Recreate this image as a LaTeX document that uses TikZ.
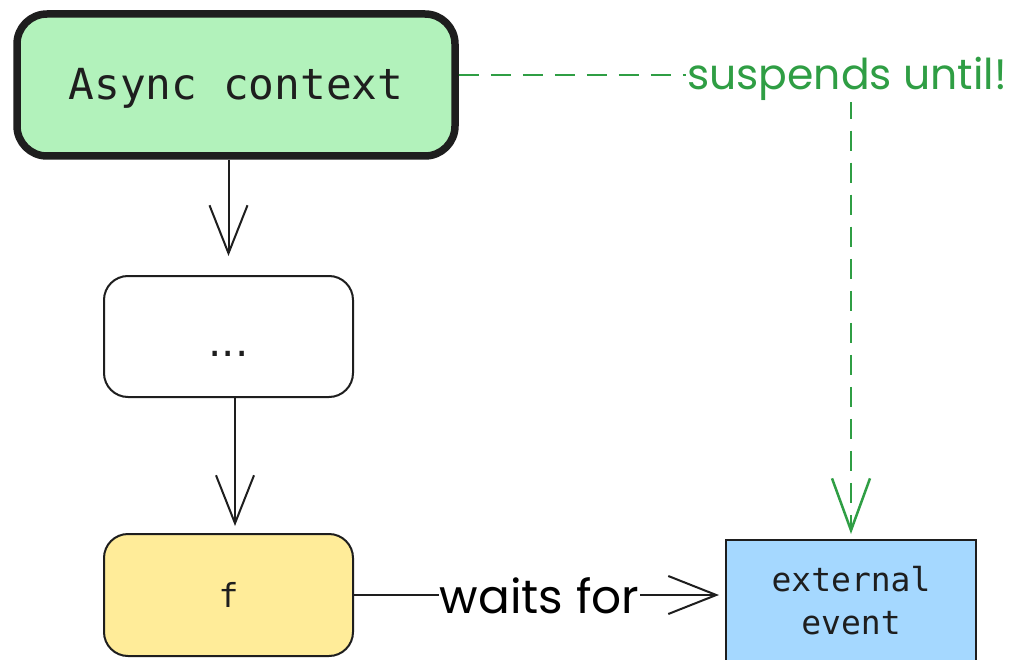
\documentclass[tikz,border=0pt]{standalone}
\usepackage{fontspec}
\newfontfamily\codefont{DejaVu Sans Mono}
\newfontfamily\handfont{Poppins}
\newfontfamily\dotfont{DejaVu Sans}
\usetikzlibrary{arrows.meta,calc}
\definecolor{ink}{HTML}{1E1E1E}
\definecolor{boxgreen}{HTML}{B2F2BB}
\definecolor{boxyellow}{HTML}{FFEC99}
\definecolor{boxblue}{HTML}{A5D8FF}
\definecolor{strokegreen}{HTML}{2F9E44}
\begin{document}
\begin{tikzpicture}[x=1pt,y=-1pt,
  box/.style={draw=ink, line width=2pt, text=ink, font=\codefont\fontsize{33}{43}\selectfont, align=center, inner sep=0pt},
  arr/.style={draw=ink, line width=2pt, -{Straight Barb[length=48pt,width=38pt,line width=2pt]}},
  garr/.style={draw=strokegreen, line width=2.5pt, dash pattern=on 20pt off 12pt, -{Straight Barb[length=52pt,width=38pt,line width=2.5pt]}},
  lbl/.style={fill=white, inner sep=1pt, font=\handfont\fontsize{44}{48}\selectfont}
]
\useasboundingbox (0,0) rectangle (1011,660);
\fill[white] (0,0) rectangle (1011,660);

\node[box, line width=7.5pt, fill=boxgreen, rounded corners=30pt, minimum width=438pt, minimum height=142pt,
      font=\codefont\fontsize{42.8}{50}\selectfont] (async) at (236,85) {\raisebox{-15pt}[0pt][0pt]{Async context}};
\node[box, fill=white, rounded corners=24pt, minimum width=249pt, minimum height=121pt,
      font=\dotfont\fontsize{42}{50}\selectfont] (dots) at (228.5,336.5) {\raisebox{-19.5pt}[0pt][0pt]{...}};
\node[box, fill=boxyellow, rounded corners=24pt, minimum width=249pt, minimum height=122pt] (f) at (228.5,595) {f};
\node[box, fill=boxblue, minimum width=250pt, minimum height=122pt] (ext) at (851,601) {external\\event};

% black arrows
\draw[arr, shorten >=19pt] (dots.north |- async.south) -- (dots.north);
\draw[arr, shorten >=7pt] ([xshift=6.5pt]dots.south) -- ([xshift=6.5pt]dots.south |- f.north);
\draw[arr, shorten >=6pt] (f.east) -- (f.east -| ext.west)
  node[lbl, midway, anchor=center, yshift=-1pt, font=\handfont\fontsize{47}{50}\selectfont] (wf) {waits for};

% green dashed connector
\coordinate (corner) at (ext.north |- 0,75);
\draw[garr, shorten >=5pt] ([yshift=10pt]async.east) -- (corner) -- (ext.north);
\node[lbl, text=strokegreen, anchor=base, font=\handfont\fontsize{42.5}{46}\selectfont] (su) at ($(corner)+(-4,15)$) {suspends until!};
\end{tikzpicture}
\end{document}
